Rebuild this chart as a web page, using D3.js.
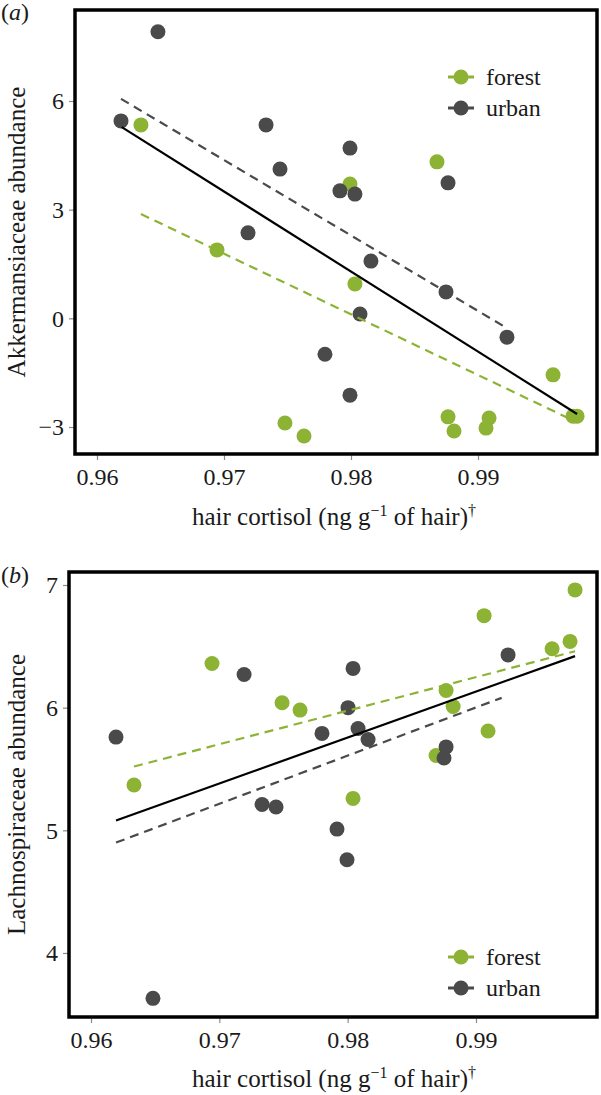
<!DOCTYPE html>
<html>
<head>
<meta charset="utf-8">
<script src="https://cdnjs.cloudflare.com/ajax/libs/d3/7.8.5/d3.min.js"></script>
<style>
  html, body { margin: 0; padding: 0; background: #fff; }
  svg { display: block; }
  text { font-family: "Liberation Serif", "Times New Roman", serif; fill: #1a1a1a; }
</style>
</head>
<body>
<svg id="chart" width="601" height="1095"></svg>
<script>
// ---------- data ----------
const xTicks = [0.96, 0.97, 0.98, 0.99];
const akkYTicks = [-3, 0, 3, 6];
const lachYTicks = [4, 5, 6, 7];
const groups = ["forest", "urban"];

// Panel (a): Akkermansiaceae
const akkForestX = [0.96346, 0.96945, 0.97480, 0.97630, 0.97992, 0.98031, 0.98677, 0.98764, 0.98811, 0.99063, 0.99087, 0.99591, 0.99748, 0.99780];
const akkForestY = [5.34, 1.89, -2.89, -3.25, 3.71, 0.95, 4.32, -2.72, -3.11, -3.03, -2.75, -1.56, -2.70, -2.70];
const akkUrbanX = [0.96189, 0.96480, 0.97189, 0.97331, 0.97441, 0.97795, 0.97913, 0.97992, 0.97992, 0.98031, 0.98071, 0.98157, 0.98748, 0.98764, 0.99228];
const akkUrbanY = [5.45, 7.91, 2.36, 5.34, 4.12, -0.99, 3.52, 4.70, -2.12, 3.43, 0.12, 1.58, 0.73, 3.74, -0.52];
const akkAllFitX = [0.96195, 0.99780];
const akkAllFitY = [5.28, -2.64];
const akkUrbanFitX = [0.96189, 0.99228];
const akkUrbanFitY = [6.06, -0.27];
const akkForestFitX = [0.96346, 0.99780];
const akkForestFitY = [2.88, -2.87];

// Panel (b): Lachnospiraceae
const lachForestX = [0.96335, 0.96943, 0.97489, 0.97629, 0.98042, 0.98689, 0.98767, 0.98822, 0.99063, 0.99094, 0.99593, 0.99733, 0.99772];
const lachForestY = [5.37, 6.36, 6.04, 5.98, 5.26, 5.61, 6.14, 6.01, 6.75, 5.81, 6.48, 6.54, 6.96];
const lachUrbanX = [0.96195, 0.96483, 0.97193, 0.97333, 0.97442, 0.97800, 0.97917, 0.97995, 0.98003, 0.98042, 0.98081, 0.98159, 0.98751, 0.98767, 0.99250];
const lachUrbanY = [5.76, 3.63, 6.27, 5.21, 5.19, 5.79, 5.01, 4.76, 6.00, 6.32, 5.83, 5.74, 5.59, 5.68, 6.43];
const lachAllFitX = [0.96195, 0.99772];
const lachAllFitY = [5.08, 6.42];
const lachUrbanFitX = [0.96195, 0.99200];
const lachUrbanFitY = [4.90, 6.08];
const lachForestFitX = [0.96335, 0.99772];
const lachForestFitY = [5.52, 6.46];

// ---------- style ----------
const colors = { forest: "#8db334", urban: "#4a4a4a" };
const svg = d3.select("#chart");
const zip = (xs, ys) => xs.map((x, i) => ({ x, y: ys[i] }));

function panel(cfg) {
  const g = svg.append("g");
  const x = d3.scaleLinear().domain(cfg.xDomain).range([cfg.left, cfg.right]);
  const y = d3.scaleLinear().domain(cfg.yDomain).range([cfg.bottom, cfg.top]);

  // axes
  const xAxis = d3.axisBottom(x).tickValues(xTicks).tickFormat(d3.format(".2f")).tickSize(6).tickPadding(8);
  const gx = g.append("g").attr("transform", `translate(0,${cfg.bottom})`).call(xAxis);
  const yAxis = d3.axisLeft(y).tickValues(cfg.yTicks).tickFormat(d => d < 0 ? "\u2212" + Math.abs(d) : d).tickSize(6).tickPadding(5);
  const gy = g.append("g").attr("transform", `translate(${cfg.left},0)`).call(yAxis);
  [gx, gy].forEach(a => {
    a.select(".domain").remove();
    a.selectAll(".tick line").attr("stroke", "#8a8a8a").attr("stroke-width", 1.2);
    a.selectAll(".tick text").attr("font-size", 24).attr("font-family", "Liberation Serif").attr("fill", "#1a1a1a");
  });
  gx.selectAll(".tick text").attr("dy", "0.71em");

  // points
  const pts = g.append("g");
  cfg.series.forEach(s => {
    pts.selectAll(null).data(zip(s.xs, s.ys)).join("circle")
      .attr("cx", d => x(d.x)).attr("cy", d => y(d.y)).attr("r", 7.5)
      .attr("fill", colors[s.group]);
  });

  // fit lines
  const line = d3.line().x(d => x(d.x)).y(d => y(d.y));
  cfg.fits.forEach(f => {
    g.append("path").datum(zip(f.xs, f.ys)).attr("d", line)
      .attr("fill", "none").attr("stroke", f.color).attr("stroke-width", 2.2)
      .attr("stroke-dasharray", f.dash ? "9,6" : null);
  });

  // frame
  g.append("rect").attr("x", cfg.left).attr("y", cfg.top)
    .attr("width", cfg.right - cfg.left).attr("height", cfg.bottom - cfg.top)
    .attr("fill", "none").attr("stroke", "#000").attr("stroke-width", 3.5);

  // legend
  groups.forEach((grp, i) => {
    const ly = cfg.legendY + i * 31;
    g.append("line").attr("x1", 448).attr("x2", 474).attr("y1", ly).attr("y2", ly)
      .attr("stroke", colors[grp]).attr("stroke-width", 3);
    g.append("circle").attr("cx", 461).attr("cy", ly).attr("r", 7.5).attr("fill", colors[grp]);
    g.append("text").attr("x", 486).attr("y", ly).attr("dy", "0.32em")
      .attr("font-size", 24).text(grp);
  });

  // y title
  const cy = (cfg.top + cfg.bottom) / 2;
  g.append("text").attr("transform", `translate(25,${cy}) rotate(-90)`)
    .attr("text-anchor", "middle").attr("font-size", 25).text(cfg.yTitle);

  // x title
  const xt = g.append("text").attr("x", 334).attr("y", cfg.xTitleY)
    .attr("text-anchor", "middle").attr("font-size", 25);
  xt.append("tspan").text("hair cortisol (ng g");
  xt.append("tspan").attr("font-size", 16).attr("dy", -9).text("\u22121");
  xt.append("tspan").attr("dy", 9).text(" of hair)");
  xt.append("tspan").attr("font-size", 16).attr("dy", -9).text("\u2020");

  // panel label
  const pl = g.append("text").attr("x", 1).attr("y", cfg.labelY).attr("font-size", 24);
  pl.append("tspan").text("(");
  pl.append("tspan").attr("font-style", "italic").text(cfg.label);
  pl.append("tspan").text(")");
}

panel({
  left: 75, right: 597, top: 10, bottom: 454,
  xDomain: [0.958268, 0.99937], yDomain: [-3.745, 8.512],
  yTicks: akkYTicks, yTitle: "Akkermansiaceae abundance",
  xTitleY: 525, legendY: 77, label: "a", labelY: 20,
  series: [
    { group: "forest", xs: akkForestX, ys: akkForestY },
    { group: "urban", xs: akkUrbanX, ys: akkUrbanY }
  ],
  fits: [
    { xs: akkUrbanFitX, ys: akkUrbanFitY, color: colors.urban, dash: true },
    { xs: akkForestFitX, ys: akkForestFitY, color: colors.forest, dash: true },
    { xs: akkAllFitX, ys: akkAllFitY, color: "#000", dash: false }
  ]
});

panel({
  left: 69, right: 597, top: 572, bottom: 1017,
  xDomain: [0.958286, 0.99943], yDomain: [3.478, 7.106],
  yTicks: lachYTicks, yTitle: "Lachnospiraceae abundance",
  xTitleY: 1087, legendY: 957, label: "b", labelY: 583,
  series: [
    { group: "forest", xs: lachForestX, ys: lachForestY },
    { group: "urban", xs: lachUrbanX, ys: lachUrbanY }
  ],
  fits: [
    { xs: lachUrbanFitX, ys: lachUrbanFitY, color: colors.urban, dash: true },
    { xs: lachForestFitX, ys: lachForestFitY, color: colors.forest, dash: true },
    { xs: lachAllFitX, ys: lachAllFitY, color: "#000", dash: false }
  ]
});
</script>
</body>
</html>
